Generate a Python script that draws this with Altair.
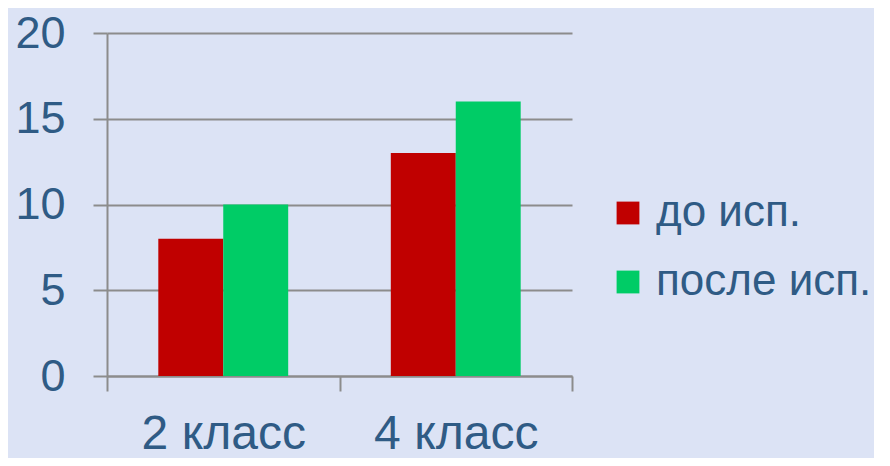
import altair as alt
import pandas as pd

categories = ["2 класс", "4 класс"]
series = ["до исп.", "после исп."]
before = [8, 13]
after = [10, 16]
colors = ["#c00000", "#00cc66"]

rows = []
for i, c in enumerate(categories):
    rows.append({"cat": c, "series": series[0], "value": before[i]})
    rows.append({"cat": c, "series": series[1], "value": after[i]})
df = pd.DataFrame(rows)

FONT = "Liberation Sans"
TXT = "#2f5b85"
GRID = "#8c8c8c"

chart = alt.Chart(df).mark_bar().encode(
    x=alt.X("cat:N", sort=categories, title=None,
            scale=alt.Scale(paddingInner=0, paddingOuter=0),
            axis=alt.Axis(labelAngle=0, tickBand="extent", labelFontSize=48,
                          labelColor=TXT, labelFont=FONT, tickSize=15,
                          tickColor=GRID, tickWidth=2, domainColor=GRID,
                          domainWidth=2, labelPadding=19, grid=False)),
    xOffset=alt.XOffset("series:N", sort=series,
                        scale=alt.Scale(paddingOuter=0.79, paddingInner=0)),
    y=alt.Y("value:Q", title=None,
            scale=alt.Scale(domain=[0, 20], nice=False),
            axis=alt.Axis(values=[0, 5, 10, 15, 20], labelFontSize=45,
                          labelColor=TXT, labelFont=FONT, tickSize=14,
                          tickColor=GRID, tickWidth=2, domainColor=GRID,
                          domainWidth=2, gridColor=GRID, gridWidth=2,
                          gridOpacity=1, labelPadding=28)),
    color=alt.Color("series:N", sort=series,
                    scale=alt.Scale(domain=series, range=colors),
                    legend=alt.Legend(title=None, orient="none", legendX=499,
                                      legendY=158, symbolType="square",
                                      symbolSize=520, symbolStrokeWidth=0,
                                      labelFontSize=44, labelFont=FONT,
                                      labelColor=TXT, rowPadding=25,
                                      labelOffset=6, labelLimit=0,
                                      symbolOpacity=1)),
).properties(
    width=465, height=343,
    autosize=alt.AutoSizeParams(type="none"),
    padding={"left": 99, "top": 25, "right": 302, "bottom": 82},
    background="#dce3f5",
).configure_view(stroke=None)

chart.save("out.html", embed_options={"renderer": "svg", "actions": False})
